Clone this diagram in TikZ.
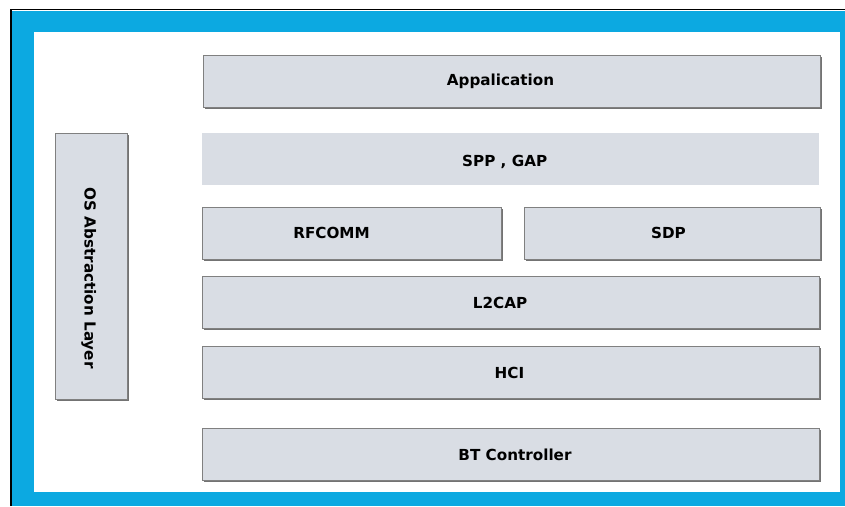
\documentclass[tikz,border=0pt]{standalone}
\usepackage{fontspec}
\setmainfont{DejaVu Sans}
\usetikzlibrary{shadows}
\definecolor{frameblue}{RGB}{12,169,225}
\definecolor{boxfill}{RGB}{217,221,228}
\definecolor{boxline}{RGB}{128,128,128}
\begin{document}
\begin{tikzpicture}[x=1pt,y=-1pt,
  layer/.style={draw=boxline, line width=1pt, fill=boxfill,
    drop shadow={shadow xshift=1.2pt, shadow yshift=-1.2pt, fill=black!55, opacity=1},
    inner sep=0pt, anchor=north west},
  plainlayer/.style={fill=boxfill, inner sep=0pt, anchor=north west},
  lbl/.style={font=\bfseries\fontsize{15.2}{18}\selectfont, inner sep=0pt,
    text height=11pt, text depth=0pt}]
\useasboundingbox (0,0) rectangle (845,506);
\fill[white] (0,0) rectangle (845,506);
% outer frame
\draw[black, line width=1.5pt] (11,506) -- (11,9.5) -- (845,9.5);
\fill[frameblue] (12,11) rectangle (845,506);
\fill[white] (34,32) rectangle (840,492);
% layers
\node[layer, minimum width=617, minimum height=52] (app) at (203,55) {};
\node[plainlayer, minimum width=617, minimum height=52] (spp) at (202,133) {};
\node[layer, minimum width=299, minimum height=52] (rfcomm) at (202,207) {};
\node[layer, minimum width=296, minimum height=52] (sdp) at (524,207) {};
\node[layer, minimum width=617, minimum height=52] (l2cap) at (202,276) {};
\node[layer, minimum width=617, minimum height=52] (hci) at (202,346) {};
\node[layer, minimum width=617, minimum height=52] (btc) at (202,428) {};
\node[layer, minimum width=72, minimum height=266] (os) at (55,133) {};
% labels
\node[lbl, xshift=-11.5pt, yshift=2pt] (applbl) at (app.center) {Appalication};
\node[lbl, xshift=-6pt, yshift=-2pt] (spplbl) at (spp.center) {SPP , GAP};
\node[lbl, xshift=-20.5pt, yshift=0.5pt] (rfcommlbl) at (rfcomm.center) {RFCOMM};
\node[lbl, xshift=-4pt, yshift=1pt] (sdplbl) at (sdp.center) {SDP};
\node[lbl, xshift=-11pt] (l2caplbl) at (l2cap.center) {L2CAP};
\node[lbl, xshift=-1.5pt] (hcilbl) at (hci.center) {HCI};
\node[lbl, xshift=4pt] (btclbl) at (btc.center) {BT Controller};
\node[lbl, rotate=-90] (oslabel) at ([xshift=-1.5pt, yshift=-11.5pt]os.center) {OS Abstraction Layer};
\end{tikzpicture}
\end{document}
